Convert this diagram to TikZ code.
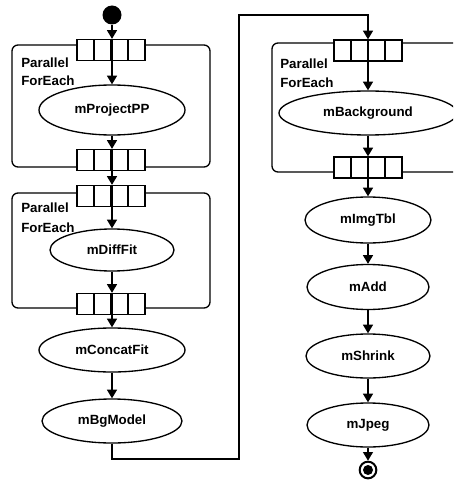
\documentclass[tikz,border=0pt]{standalone}
\usepackage{fontspec}
\setmainfont{Liberation Sans}
\usetikzlibrary{arrows.meta,shapes.geometric}
\begin{document}
\begin{tikzpicture}[x=0.75pt,y=-0.75pt,
  every node/.style={font=\bfseries\fontsize{10}{12}\selectfont},
  arr/.style={draw,line width=1pt,-{Triangle[width=7.5pt,length=6.5pt]}},
  ln/.style={draw,line width=1pt},
  pbox/.style={draw,line width=1pt,rounded corners=4.5pt},
  task/.style 2 args={ellipse,draw,line width=1pt,fill=white,inner sep=0pt,
    minimum width=#1*1.5pt,minimum height=#2*1.5pt},
  queue/.style={draw,line width=1pt,fill=white,inner sep=0pt,
    minimum width=51pt,minimum height=15.75pt,
    path picture={\foreach \i in {1,2,3}{\draw[line width=1pt]
      ([xshift=\i*12.75pt]path picture bounding box.north west) --
      ([xshift=\i*12.75pt]path picture bounding box.south west);}}},
  lbl/.style={anchor=base west,inner sep=0pt}
]
\useasboundingbox (0,0) rectangle (453,481);
\clip (0,0) rectangle (453,481);

% parallel boxes
\draw[pbox] (12,45) rectangle (210,167);
\draw[pbox] (12,193) rectangle (210,308);
\draw[pbox] (272,43) rectangle (490,172);

\node[lbl] (p1a) at (21,68) {Parallel};
\node[lbl] (p1b) at (21,86) {ForEach};
\node[lbl] (p2a) at (21,212) {Parallel};
\node[lbl] (p2b) at (21,232) {ForEach};
\node[lbl] (p3a) at (280,69) {Parallel};
\node[lbl] (p3b) at (280,88) {ForEach};

% left column
\node[circle,fill,inner sep=0pt,minimum size=14.25pt] (start) at (112,15) {};
\node[queue] (q1) at (111,50) {};
\node[task={73}{25}] (pp) at (112,110) {mProjectPP};
\node[queue] (q2) at (111,160) {};
\node[queue] (q3) at (111,196) {};
\node[task={62}{21}] (df) at (112,250) {mDiffFit};
\node[queue] (q4) at (111,304) {};
\node[task={73}{22}] (cf) at (112,350) {mConcatFit};
\node[task={70}{22}] (bg) at (112,421) {mBgModel};

% right column
\node[queue] (q5) at (368,50.5) {};
\node[task={89}{22}] (bk) at (368,113) {mBackground};
\node[queue] (q6) at (368,167.5) {};
\node[task={63}{23}] (it) at (368,220) {mImgTbl};
\node[task={61}{22.5}] (ad) at (368,287) {mAdd};
\node[task={62}{22}] (sh) at (368,356) {mShrink};
\node[task={61}{22}] (jp) at (368,425) {mJpeg};
\node[circle,draw,line width=1.5pt,fill=white,inner sep=0pt,minimum size=12.5pt] (end) at (368,470) {};
\node[circle,fill,inner sep=0pt,minimum size=7.5pt] (enddot) at (end) {};

\coordinate (c1) at (239,459);
\coordinate (c2) at (239,15);

% connectors left
\draw[arr] (start.south) -- (start.south |- q1.north);
\draw[arr] (pp.north |- q1.north) -- (pp.north);
\draw[arr] (pp.south) -- (pp.south |- q2.north);
\draw[arr] (pp.south |- q2.north) -- (pp.south |- q3.north);
\draw[arr] (df.north |- q3.north) -- (df.north);
\draw[arr] (df.south) -- (df.south |- q4.north);
\draw[arr] (cf.north |- q4.north) -- (cf.north);
\draw[arr] (cf.south) -- (bg.north);
\draw[arr] (bg.south) |- (c1) -- (c2) -| (q5.north);

% connectors right
\draw[arr] (q5.north) -- (bk.north);
\draw[arr] (bk.south) -- (q6.north);
\draw[arr] (q6.north) -- (it.north);
\draw[arr] (it.south) -- (ad.north);
\draw[arr] (ad.south) -- (sh.north);
\draw[arr] (sh.south) -- (jp.north);
\draw[arr] (jp.south) -- (end.north);
\end{tikzpicture}
\end{document}
